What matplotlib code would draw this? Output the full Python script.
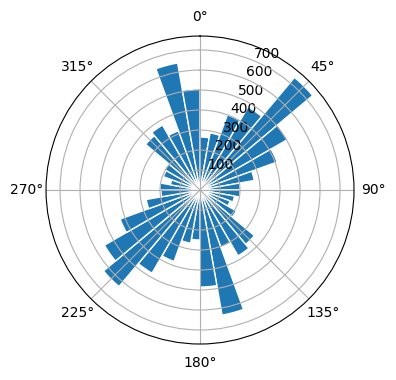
import numpy as np
import matplotlib.pyplot as plt

# bin start angles (degrees), 10 degree bins, clockwise from north
bin_start = np.arange(0, 360, 10)
counts = [265, 290, 400, 480, 735, 505, 410, 275, 200,
          200, 175, 160, 210, 355, 380, 305, 635, 485,
          250, 270, 380, 480, 630, 552, 425, 273, 195,
          200, 150, 195, 205, 355, 375, 315, 645, 505]

theta = np.deg2rad(bin_start)
width = np.deg2rad(10)

fig = plt.figure(figsize=(3.96, 3.8), dpi=100)
ax = fig.add_axes([0.1162, 0.0947, 0.7778, 0.8105], projection='polar')
ax.set_theta_zero_location('N')
ax.set_theta_direction(-1)

ax.bar(theta, counts, width=width, align='edge', color='#1f77b4',
       edgecolor='white', linewidth=1)
ax.set_ylim(0, 770)
ax.set_yticks([100, 200, 300, 400, 500, 600, 700])

fig.savefig('out.png', dpi=100)
